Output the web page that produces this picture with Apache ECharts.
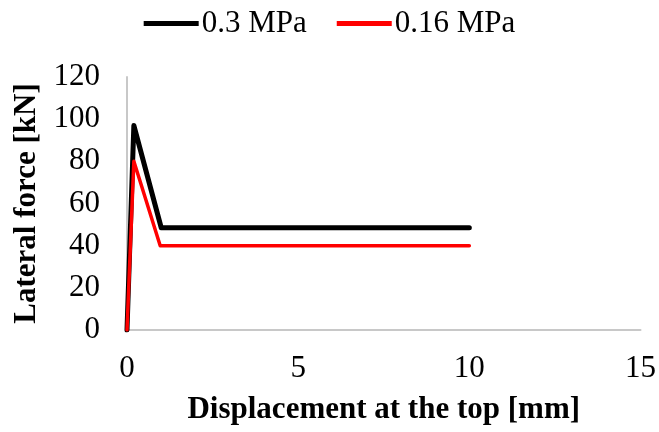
<!DOCTYPE html>
<html>
<head>
<meta charset="utf-8">
<script src="https://cdn.jsdelivr.net/npm/echarts@6/dist/echarts.min.js"></script>
<style>
  html,body{margin:0;padding:0;background:#fff;}
  #chart{width:659px;height:432px;}
</style>
</head>
<body>
<div id="chart"></div>
<script>
// 数据
var dispHigh = [0, 0.2, 1, 10],
    forceHigh = [0, 97, 48.5, 48.5];
var dispLow = [0, 0.2, 0.97, 10],
    forceLow = [0, 80, 40, 40];
var seriesNames = ['0.3 MPa', '0.16 MPa'];

function pairs(xs, ys){
  return xs.map(function(x, i){ return [x, ys[i]]; });
}

var font = 'Liberation Serif';
var chart = echarts.init(document.getElementById('chart'));
chart.setOption({
  animation: false,
  textStyle: { fontFamily: font },
  legend: {
    top: 3,
    left: 'center',
    itemWidth: 55,
    itemHeight: 5,
    itemGap: 30,
    icon: 'rect',
    textStyle: { fontFamily: font, fontSize: 31, color: '#000', padding: [0, 0, 0, -2] },
    data: seriesNames
  },
  grid: { left: 127, right: 18, top: 77, bottom: 102 },
  xAxis: {
    type: 'value',
    min: 0, max: 15, interval: 5,
    name: 'Displacement at the top [mm]',
    nameLocation: 'middle',
    nameGap: 64,
    nameTextStyle: { fontFamily: font, fontSize: 31, fontWeight: 'bold', color: '#000' },
    axisLine: { lineStyle: { color: '#c8c8c8', width: 2 } },
    axisTick: { show: false },
    splitLine: { show: false },
    axisLabel: { fontFamily: font, fontSize: 31, color: '#000', margin: 23 }
  },
  yAxis: {
    type: 'value',
    min: 0, max: 120, interval: 20,
    name: 'Lateral force [kN]',
    nameLocation: 'middle',
    nameGap: 81,
    nameTextStyle: { fontFamily: font, fontSize: 31, fontWeight: 'bold', color: '#000' },
    axisLine: { show: true, lineStyle: { color: '#c8c8c8', width: 2 } },
    axisTick: { show: false },
    splitLine: { show: false },
    axisLabel: { fontFamily: font, fontSize: 31, color: '#000', margin: 27 }
  },
  series: [
    {
      name: seriesNames[0],
      type: 'line',
      data: pairs(dispHigh, forceHigh),
      showSymbol: false,
      z: 2,
      itemStyle: { color: '#000' },
      lineStyle: { color: '#000', width: 5, cap: 'round', join: 'round' }
    },
    {
      name: seriesNames[1],
      type: 'line',
      data: pairs(dispLow, forceLow),
      showSymbol: false,
      z: 3,
      itemStyle: { color: '#ff0000' },
      lineStyle: { color: '#ff0000', width: 3.5, cap: 'round', join: 'round' }
    }
  ]
});
</script>
</body>
</html>
